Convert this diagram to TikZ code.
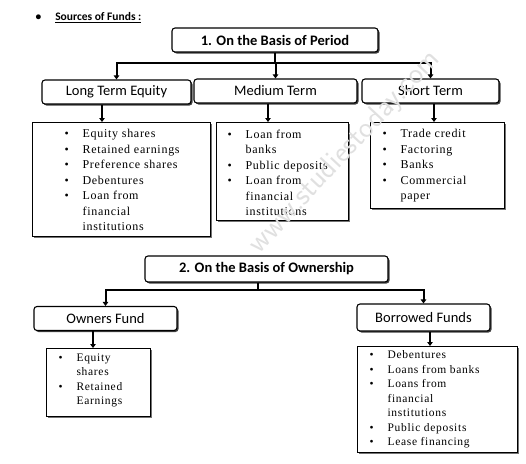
\documentclass[tikz,border=0pt]{standalone}
\usepackage{fontspec}
\setmainfont{Liberation Serif}
\newfontfamily\calib{Carlito}
\usetikzlibrary{arrows.meta,shadows}
\newcommand{\itm}[1]{\makebox[18pt][l]{\textbullet}#1}
\newcommand{\cnt}[1]{\hspace*{18pt}#1}

\begin{document}
\begin{tikzpicture}[x=1pt, y=-1pt, line width=1.1pt,
    head/.style = {draw, rounded corners=3pt, fill=white,
        drop shadow={shadow xshift=1.5pt, shadow yshift=-1.5pt, fill=black!75, opacity=1},
        minimum height=24pt, inner sep=2pt,
        font=\calib\fontsize{14.5}{16}\selectfont},
    bold/.style = {font=\calib\bfseries\fontsize{14.5}{16}\selectfont},
    lst/.style = {draw, fill=white, anchor=north west,
        drop shadow={shadow xshift=1.5pt, shadow yshift=-1.5pt, fill=black!55, opacity=1}},
    txt/.style = {anchor=north west, align=left, inner sep=0pt,
        font=\addfontfeature{LetterSpace=6}\fontsize{12}{15.5}\selectfont},
    arr/.style = {line width=2pt, -{Triangle[length=4pt,width=5.5pt]}}]

\useasboundingbox (0,0) rectangle (526,463);

% Heading
\node[anchor=west, inner sep=0pt, font=\calib\bfseries\fontsize{11.5}{13}\selectfont]
    (src) at (35,18) {\textbullet\hspace{14pt}\underline{Sources of Funds :}};

% 1. Basis of period
\node[head, bold, minimum width=206pt] (period) at (275,40) {1. On the Basis of Period};
\node[head, minimum width=149pt] (lte) at (116.5,92) {Long Term Equity};
\node[head, minimum width=163pt] (mid) at (275.5,91) {Medium Term};
\node[head, minimum width=137pt] (short) at (430.5,91) {Short Term};

\foreach \c in {lte,mid,short}
    \draw[arr] (period.south) -- ++(0,10) -| (\c.north);

% Period lists
\node[lst, minimum width=178pt, minimum height=114pt] (lteL) at (32,122) {};
\node[txt] (lteT) at ([shift={(32pt,-7pt)}]lteL.north west) {%
    \itm{Equity shares}\\ \itm{Retained earnings}\\ \itm{Preference shares}\\
    \itm{Debentures}\\ \itm{Loan from}\\ \cnt{financial}\\ \cnt{institutions}};

\node[lst, minimum width=132pt, minimum height=98pt] (midL) at (216,122) {};
\node[txt] (midT) at ([shift={(11pt,-7pt)}]midL.north west) {%
    \itm{Loan from}\\ \cnt{banks}\\ \itm{Public deposits}\\
    \itm{Loan from}\\ \cnt{financial}\\ \cnt{institutions}};

\node[lst, minimum width=134pt, minimum height=86pt] (shortL) at (370,122) {};
\node[txt] (shortT) at ([shift={(12pt,-7pt)}]shortL.north west) {%
    \itm{Trade credit}\\ \itm{Factoring}\\ \itm{Banks}\\
    \itm{Commercial}\\ \cnt{paper}};

% 2. Basis of ownership
\node[head, bold, minimum width=243pt, minimum height=26pt] (owner) at (266.5,269) {2. On the Basis of Ownership};
\node[head, minimum width=143pt] (own) at (105.5,318.5) {Owners Fund};
\node[head, minimum width=133pt, minimum height=27pt] (bor) at (423.5,317.5) {Borrowed Funds};

\foreach \c in {own,bor}
    \draw[arr] ([xshift=-8.5pt]owner.south) -- ++(0,7) -| (\c.north);

% Ownership lists
\node[lst, minimum width=104pt, minimum height=68pt] (ownL) at (46,348) {};
\node[txt, font=\addfontfeature{LetterSpace=6}\fontsize{11.5}{14.5}\selectfont] (ownT)
    at ([shift={(12pt,-5pt)}]ownL.north west) {%
    \itm{Equity}\\ \cnt{shares}\\ \itm{Retained}\\ \cnt{Earnings}};

\node[lst, minimum width=160pt, minimum height=106pt] (borL) at (357,346) {};
\node[txt, font=\addfontfeature{LetterSpace=6}\fontsize{11.5}{14.5}\selectfont] (borT)
    at ([shift={(12pt,-4pt)}]borL.north west) {%
    \itm{Debentures}\\ \itm{Loans from banks}\\ \itm{Loans from}\\
    \cnt{financial}\\ \cnt{institutions}\\ \itm{Public deposits}\\ \itm{Lease financing}};

% Box to list arrows
\foreach \b/\l/\s in {lte/lteL/-14.5, mid/midL/-7.5, short/shortL/3.5, own/ownL/-12.5, bor/borL/6.5}
    \draw[arr] ([xshift=\s pt]\b.south) -- ([xshift=\s pt]\b.south |- \l.north);

% Watermark
\node[rotate=47, text=black!12, font=\sffamily\fontsize{30}{30}\selectfont] (wm) at (345,152) {www.studiestoday.com};
\end{tikzpicture}
\end{document}
